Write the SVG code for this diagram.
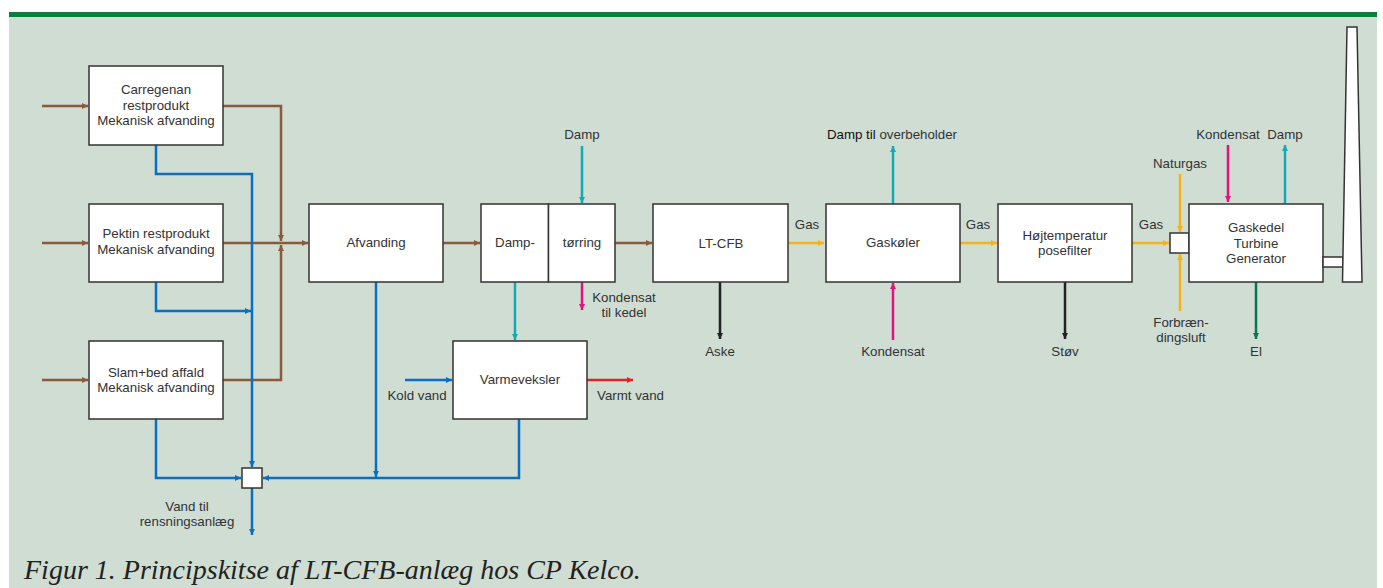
<svg xmlns="http://www.w3.org/2000/svg" width="1383" height="588" viewBox="0 0 1383 588">
<defs>
<style>
.bg{fill:#cfddd3}
.box{fill:#ffffff;stroke:#333333;stroke-width:1.5}
.t{font-family:"Liberation Sans",Arial,sans-serif;font-size:13.3px;fill:#333333;text-anchor:middle}
.ln{fill:none;stroke-width:2.5}
.br{stroke:#8a5a3c}
.bl{stroke:#0a6fc0}
.te{stroke:#14aab4}
.mg{stroke:#e0147f}
.or{stroke:#f6b318}
.rd{stroke:#e02222}
.bk{stroke:#222222}
.gr{stroke:#0b7552}
.cap{font-family:"Liberation Serif","Times New Roman",serif;font-style:italic;font-size:28px;fill:#222222}
</style>
<marker id="aBr" viewBox="0 0 10 10" refX="10" refY="5" markerWidth="8" markerHeight="6" markerUnits="userSpaceOnUse" orient="auto"><path d="M0,0L10,5L0,10z" fill="#8a5a3c"/></marker>
<marker id="aBl" viewBox="0 0 10 10" refX="10" refY="5" markerWidth="8" markerHeight="6" markerUnits="userSpaceOnUse" orient="auto"><path d="M0,0L10,5L0,10z" fill="#0a6fc0"/></marker>
<marker id="aTe" viewBox="0 0 10 10" refX="10" refY="5" markerWidth="8" markerHeight="6" markerUnits="userSpaceOnUse" orient="auto"><path d="M0,0L10,5L0,10z" fill="#14aab4"/></marker>
<marker id="aMg" viewBox="0 0 10 10" refX="10" refY="5" markerWidth="8" markerHeight="6" markerUnits="userSpaceOnUse" orient="auto"><path d="M0,0L10,5L0,10z" fill="#e0147f"/></marker>
<marker id="aOr" viewBox="0 0 10 10" refX="10" refY="5" markerWidth="8" markerHeight="6" markerUnits="userSpaceOnUse" orient="auto"><path d="M0,0L10,5L0,10z" fill="#f6b318"/></marker>
<marker id="aRd" viewBox="0 0 10 10" refX="10" refY="5" markerWidth="8" markerHeight="6" markerUnits="userSpaceOnUse" orient="auto"><path d="M0,0L10,5L0,10z" fill="#e02222"/></marker>
<marker id="aBk" viewBox="0 0 10 10" refX="10" refY="5" markerWidth="8" markerHeight="6" markerUnits="userSpaceOnUse" orient="auto"><path d="M0,0L10,5L0,10z" fill="#222222"/></marker>
<marker id="aGr" viewBox="0 0 10 10" refX="10" refY="5" markerWidth="8" markerHeight="6" markerUnits="userSpaceOnUse" orient="auto"><path d="M0,0L10,5L0,10z" fill="#0b7552"/></marker>
</defs>
<rect x="0" y="0" width="1383" height="588" fill="#ffffff"/>
<rect class="bg" x="9" y="16" width="1368" height="572"/>
<rect x="9" y="12" width="1368" height="5" fill="#0b7f3b"/>

<g id="connectors">
<path class="ln br" d="M42,106H88" marker-end="url(#aBr)"/>
<path class="ln br" d="M42,243H88" marker-end="url(#aBr)"/>
<path class="ln br" d="M42,380H88" marker-end="url(#aBr)"/>
<path class="ln br" d="M223,106H281V241" marker-end="url(#aBr)"/>
<path class="ln br" d="M223,380H281V245" marker-end="url(#aBr)"/>
<path class="ln br" d="M223,243H308" marker-end="url(#aBr)"/>
<path class="ln br" d="M443,243H480" marker-end="url(#aBr)"/>
<path class="ln br" d="M615,243H652" marker-end="url(#aBr)"/>

<path class="ln bl" d="M156,145V174H252V467" marker-end="url(#aBl)"/>
<path class="ln bl" d="M156,282V311H251" marker-end="url(#aBl)"/>
<path class="ln bl" d="M156,419V478H241" marker-end="url(#aBl)"/>
<path class="ln bl" d="M519,419V478H263" marker-end="url(#aBl)"/>
<path class="ln bl" d="M376,282V477" marker-end="url(#aBl)"/>
<path class="ln bl" d="M252,488V535" marker-end="url(#aBl)"/>
<path class="ln bl" d="M405,380H452" marker-end="url(#aBl)"/>
<path class="ln rd" d="M587,380H633" marker-end="url(#aRd)"/>

<path class="ln te" d="M582,146V203" marker-end="url(#aTe)"/>
<path class="ln te" d="M515,282V340" marker-end="url(#aTe)"/>
<path class="ln te" d="M893,204V146" marker-end="url(#aTe)"/>
<path class="ln te" d="M1285,203V145" marker-end="url(#aTe)"/>

<path class="ln mg" d="M582,282V310" marker-end="url(#aMg)"/>
<path class="ln mg" d="M893,340V283" marker-end="url(#aMg)"/>
<path class="ln mg" d="M1228,145V202" marker-end="url(#aMg)"/>

<path class="ln or" d="M788,243H824" marker-end="url(#aOr)"/>
<path class="ln or" d="M960,243H997" marker-end="url(#aOr)"/>
<path class="ln or" d="M1132,243H1169" marker-end="url(#aOr)"/>
<path class="ln or" d="M1180,174V232" marker-end="url(#aOr)"/>
<path class="ln or" d="M1180,311V254" marker-end="url(#aOr)"/>

<path class="ln bk" d="M720,282V339" marker-end="url(#aBk)"/>
<path class="ln bk" d="M1065,282V339" marker-end="url(#aBk)"/>
<path class="ln gr" d="M1256,282V339" marker-end="url(#aGr)"/>
</g>

<g id="carregenan">
<rect class="box" x="89" y="66" width="134" height="79"/>
<text class="t" x="156" y="94">Carregenan</text>
<text class="t" x="156" y="110">restprodukt</text>
<text class="t" x="156" y="125">Mekanisk afvanding</text>
</g>
<g id="pektin">
<rect class="box" x="89" y="204" width="134" height="78"/>
<text class="t" x="156" y="238">Pektin restprodukt</text>
<text class="t" x="156" y="254">Mekanisk afvanding</text>
</g>
<g id="slam">
<rect class="box" x="89" y="341" width="134" height="78"/>
<text class="t" x="156" y="377">Slam+bed affald</text>
<text class="t" x="156" y="392">Mekanisk afvanding</text>
</g>
<g id="mixer1">
<rect class="box" x="242" y="468" width="20" height="20"/>
</g>
<g id="vand-label">
<text class="t" x="187" y="511">Vand til</text>
<text class="t" x="187" y="526">rensningsanlæg</text>
</g>
<g id="afvanding">
<rect class="box" x="309" y="204" width="134" height="78"/>
<text class="t" x="376" y="247">Afvanding</text>
</g>
<g id="damptorring">
<rect class="box" x="481" y="204" width="67.5" height="78"/>
<rect class="box" x="548.5" y="204" width="66.5" height="78"/>
<text class="t" x="515" y="247">Damp-</text>
<text class="t" x="582" y="247">tørring</text>
<text class="t" x="582" y="139">Damp</text>
<text class="t" x="624" y="302">Kondensat</text>
<text class="t" x="624" y="317">til kedel</text>
</g>
<g id="varmeveksler">
<rect class="box" x="453" y="341" width="134" height="78"/>
<text class="t" x="520" y="384">Varmeveksler</text>
<text class="t" x="417" y="400">Kold vand</text>
<text class="t" x="597" y="400" style="text-anchor:start">Varmt vand</text>
</g>
<g id="ltcfb">
<rect class="box" x="653" y="204" width="135" height="78"/>
<text class="t" x="721" y="248">LT-CFB</text>
<text class="t" x="807" y="229">Gas</text>
<text class="t" x="720" y="356">Aske</text>
</g>
<g id="gaskoler">
<rect class="box" x="826" y="204" width="134" height="78"/>
<text class="t" x="893" y="247">Gaskøler</text>
<text class="t" x="892" y="139"><tspan fill="#111111">Damp til</tspan> overbeholder</text>
<text class="t" x="893" y="356">Kondensat</text>
<text class="t" x="978" y="229">Gas</text>
</g>
<g id="posefilter">
<rect class="box" x="998" y="204" width="134" height="78"/>
<text class="t" x="1065" y="240">Højtemperatur</text>
<text class="t" x="1065" y="255">posefilter</text>
<text class="t" x="1065" y="356">Støv</text>
<text class="t" x="1151" y="229">Gas</text>
</g>
<g id="mixer2">
<rect class="box" x="1170" y="233" width="19" height="20"/>
<text class="t" x="1180" y="168">Naturgas</text>
<text class="t" x="1181" y="327">Forbræn-</text>
<text class="t" x="1181" y="342">dingsluft</text>
</g>
<g id="gaskedel">
<rect class="box" x="1189" y="204" width="134" height="78"/>
<text class="t" x="1256" y="232">Gaskedel</text>
<text class="t" x="1256" y="248">Turbine</text>
<text class="t" x="1256" y="263">Generator</text>
<text class="t" x="1228" y="139">Kondensat</text>
<text class="t" x="1285" y="139">Damp</text>
<text class="t" x="1256" y="356">El</text>
</g>
<g id="chimney">
<rect class="box" x="1323" y="257" width="20" height="10"/>
<polygon class="box" points="1347,27 1357,27 1362,282 1342.5,282"/>
</g>
<text class="cap" x="24" y="579">Figur 1. Principskitse af LT-CFB-anlæg hos CP Kelco.</text>
</svg>
